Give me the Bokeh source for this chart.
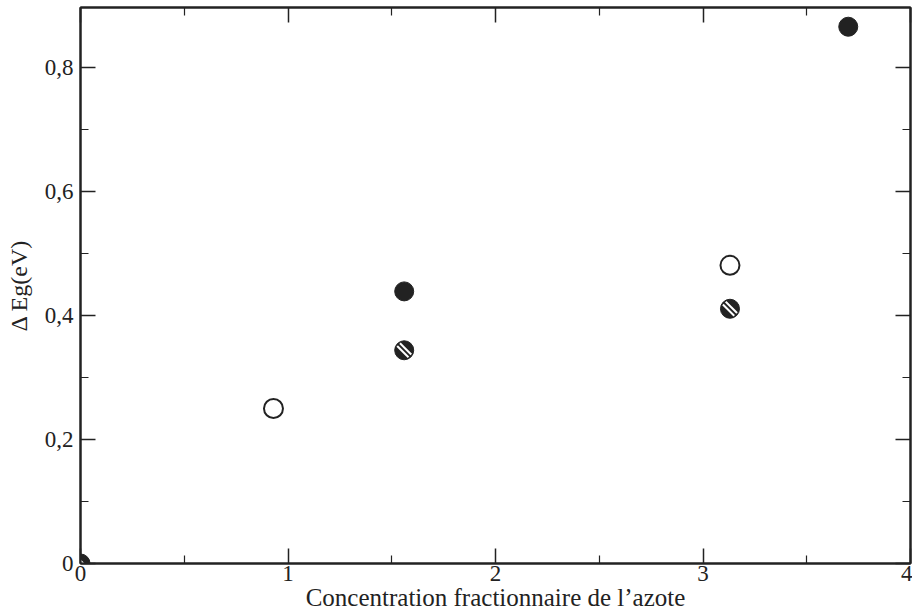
from bokeh.plotting import figure
from bokeh.models import Range1d, FixedTicker, LinearAxis
from bokeh.embed import file_html
from bokeh.resources import INLINE
import math

# data
x_open = [0.93, 3.13]
y_open = [0.25, 0.481]
x_filled = [1.56, 3.70]
y_filled = [0.439, 0.866]
x_hatch = [0.0, 1.56, 3.13]
y_hatch = [0.0, 0.344, 0.411]

x_ticks = [0, 1, 2, 3, 4]
x_minor = [0.5, 1.5, 2.5, 3.5]
y_ticks = [0, 0.2, 0.4, 0.6, 0.8]
y_minor = [0.1, 0.3, 0.5, 0.7]
y_labels = ["0", "0,2", "0,4", "0,6", "0,8"]

FONT = "Liberation Serif"
INK = "#222222"

p = figure(width=912, height=613, output_backend="svg", toolbar_location=None,
           x_range=Range1d(0, 4), y_range=Range1d(0, 0.897),
           min_border_left=80, min_border_right=2, min_border_top=7, min_border_bottom=50,
           background_fill_color="white", border_fill_color="white")
p.xgrid.visible = False
p.ygrid.visible = False
p.outline_line_color = INK
p.outline_line_width = 2

def style(ax, ticks, minor, labels=True):
    ax.ticker = FixedTicker(ticks=ticks, minor_ticks=minor)
    ax.axis_line_color = INK
    ax.axis_line_width = 2
    ax.major_tick_line_color = INK
    ax.major_tick_line_width = 1.5
    ax.minor_tick_line_color = INK
    ax.minor_tick_line_width = 1.2
    ax.major_tick_in = 15
    ax.major_tick_out = 0
    ax.minor_tick_in = 8
    ax.minor_tick_out = 0
    ax.major_label_text_font = FONT
    ax.major_label_text_font_size = "23px"
    ax.major_label_text_color = INK if labels else None
    ax.axis_label_text_font = FONT
    ax.axis_label_text_font_size = "24px"
    ax.axis_label_text_font_style = "normal"
    ax.axis_label_text_color = INK

style(p.xaxis[0], x_ticks, x_minor)
style(p.yaxis[0], y_ticks, y_minor)
p.xaxis[0].major_label_standoff = 2
p.yaxis[0].major_label_standoff = 7
p.yaxis[0].major_label_overrides = {t: l for t, l in zip(y_ticks, y_labels)}
p.xaxis[0].axis_label = "Concentration fractionnaire de l\u2019azote"
p.xaxis[0].axis_label_text_font_size = "25px"
p.yaxis[0].axis_label = "\u0394 Eg(eV)"
p.xaxis[0].axis_label_standoff = 0
p.yaxis[0].axis_label_standoff = 10

top = LinearAxis()
style(top, x_ticks, x_minor, labels=False)
top.major_label_text_font_size = "0px"
p.add_layout(top, "above")
right = LinearAxis()
style(right, y_ticks, y_minor, labels=False)
right.major_label_text_font_size = "0px"
p.add_layout(right, "right")

S = 19
p.scatter(x_open, y_open, marker="circle", size=S, fill_color="white",
          line_color=INK, line_width=2)
p.scatter(x_filled, y_filled, marker="circle", size=S, fill_color=INK,
          line_color=INK, line_width=1)
p.scatter(x_hatch, y_hatch, marker="circle", size=S, fill_color=INK,
          line_color=INK, line_width=1)
p.scatter(x_hatch, y_hatch, marker="dash", size=S - 3, angle=-math.pi / 4,
          line_color="white", line_width=6)
p.scatter(x_hatch, y_hatch, marker="dash", size=S - 1, angle=-math.pi / 4,
          line_color=INK, line_width=2)

open("out.html", "w").write(file_html(p, INLINE))
